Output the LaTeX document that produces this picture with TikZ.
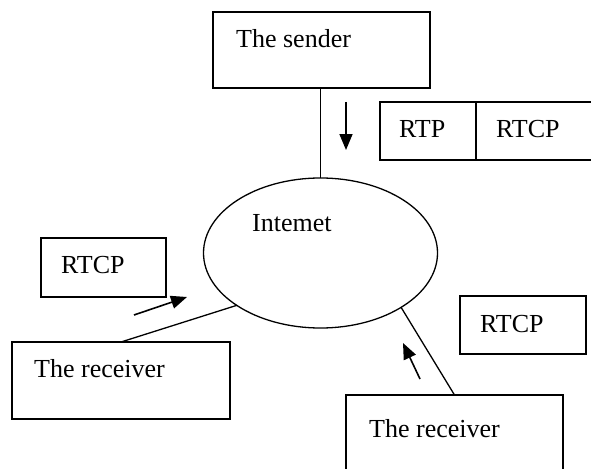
\documentclass[tikz,border=0pt]{standalone}
\usepackage{fontspec}
\setmainfont{Liberation Serif}
\usetikzlibrary{arrows.meta,shapes.geometric}
\begin{document}
\begin{tikzpicture}[x=1pt,y=-1pt,
  box/.style={draw, line width=1.4pt, inner sep=0pt, outer sep=0pt},
  lbl/.style={anchor=base west, inner sep=0pt, font=\fontsize{26}{30}\selectfont},
  link/.style={line width=1.3pt},
  flow/.style={line width=1.6pt, -{Triangle[length=16pt,width=13pt]}}]
\clip (0,0) rectangle (591,468);
\fill[white] (0,0) rectangle (591,468);
% boxes
\node[box, minimum width=217pt, minimum height=76pt] (sender) at (321.5,50) {};
\node[box, minimum width=96pt, minimum height=58pt] (rtp) at (428,131) {};
\node[box, minimum width=150pt, minimum height=58pt] (rtcpA) at (551,131) {};
\node[box, minimum width=125pt, minimum height=59pt] (rtcpB) at (103.5,267.5) {};
\node[box, minimum width=218pt, minimum height=77pt] (recvA) at (121,380.5) {};
\node[box, minimum width=126pt, minimum height=58pt] (rtcpC) at (523,325) {};
\node[box, minimum width=217pt, minimum height=80pt] (recvB) at (454.5,435) {};
\node[draw, ellipse, line width=1.3pt, minimum width=234pt, minimum height=150pt, inner sep=0pt, outer sep=0pt] (net) at (320.5,253) {};
% texts
\node[lbl] (tSender) at (236,48) {The sender};
\node[lbl] (tRtp) at (399,137) {RTP};
\node[lbl] (tRtcpA) at (496,137) {RTCP};
\node[lbl] (tNet) at (252,231) {Intemet};
\node[lbl] (tRtcpB) at (61,273) {RTCP};
\node[lbl] (tRecvA) at (34,377) {The receiver};
\node[lbl] (tRtcpC) at (480,332) {RTCP};
\node[lbl] (tRecvB) at (369,437) {The receiver};
% links
\draw[link] (sender.south -| net.north) -- (net.north);
\draw[link] (recvA.north) -- (net.212.4);
\draw[link] (recvB.north) -- (net.326.9);
% arrows
\coordinate (a1s) at (346,102); \coordinate (a1e) at (346,150);
\coordinate (a2s) at (134,315); \coordinate (a2e) at (187,297);
\coordinate (a3s) at (420,379); \coordinate (a3e) at (403,343);
\draw[flow] (a1s) -- (a1e);
\draw[flow] (a2s) -- (a2e);
\draw[flow] (a3s) -- (a3e);
\end{tikzpicture}
\end{document}
